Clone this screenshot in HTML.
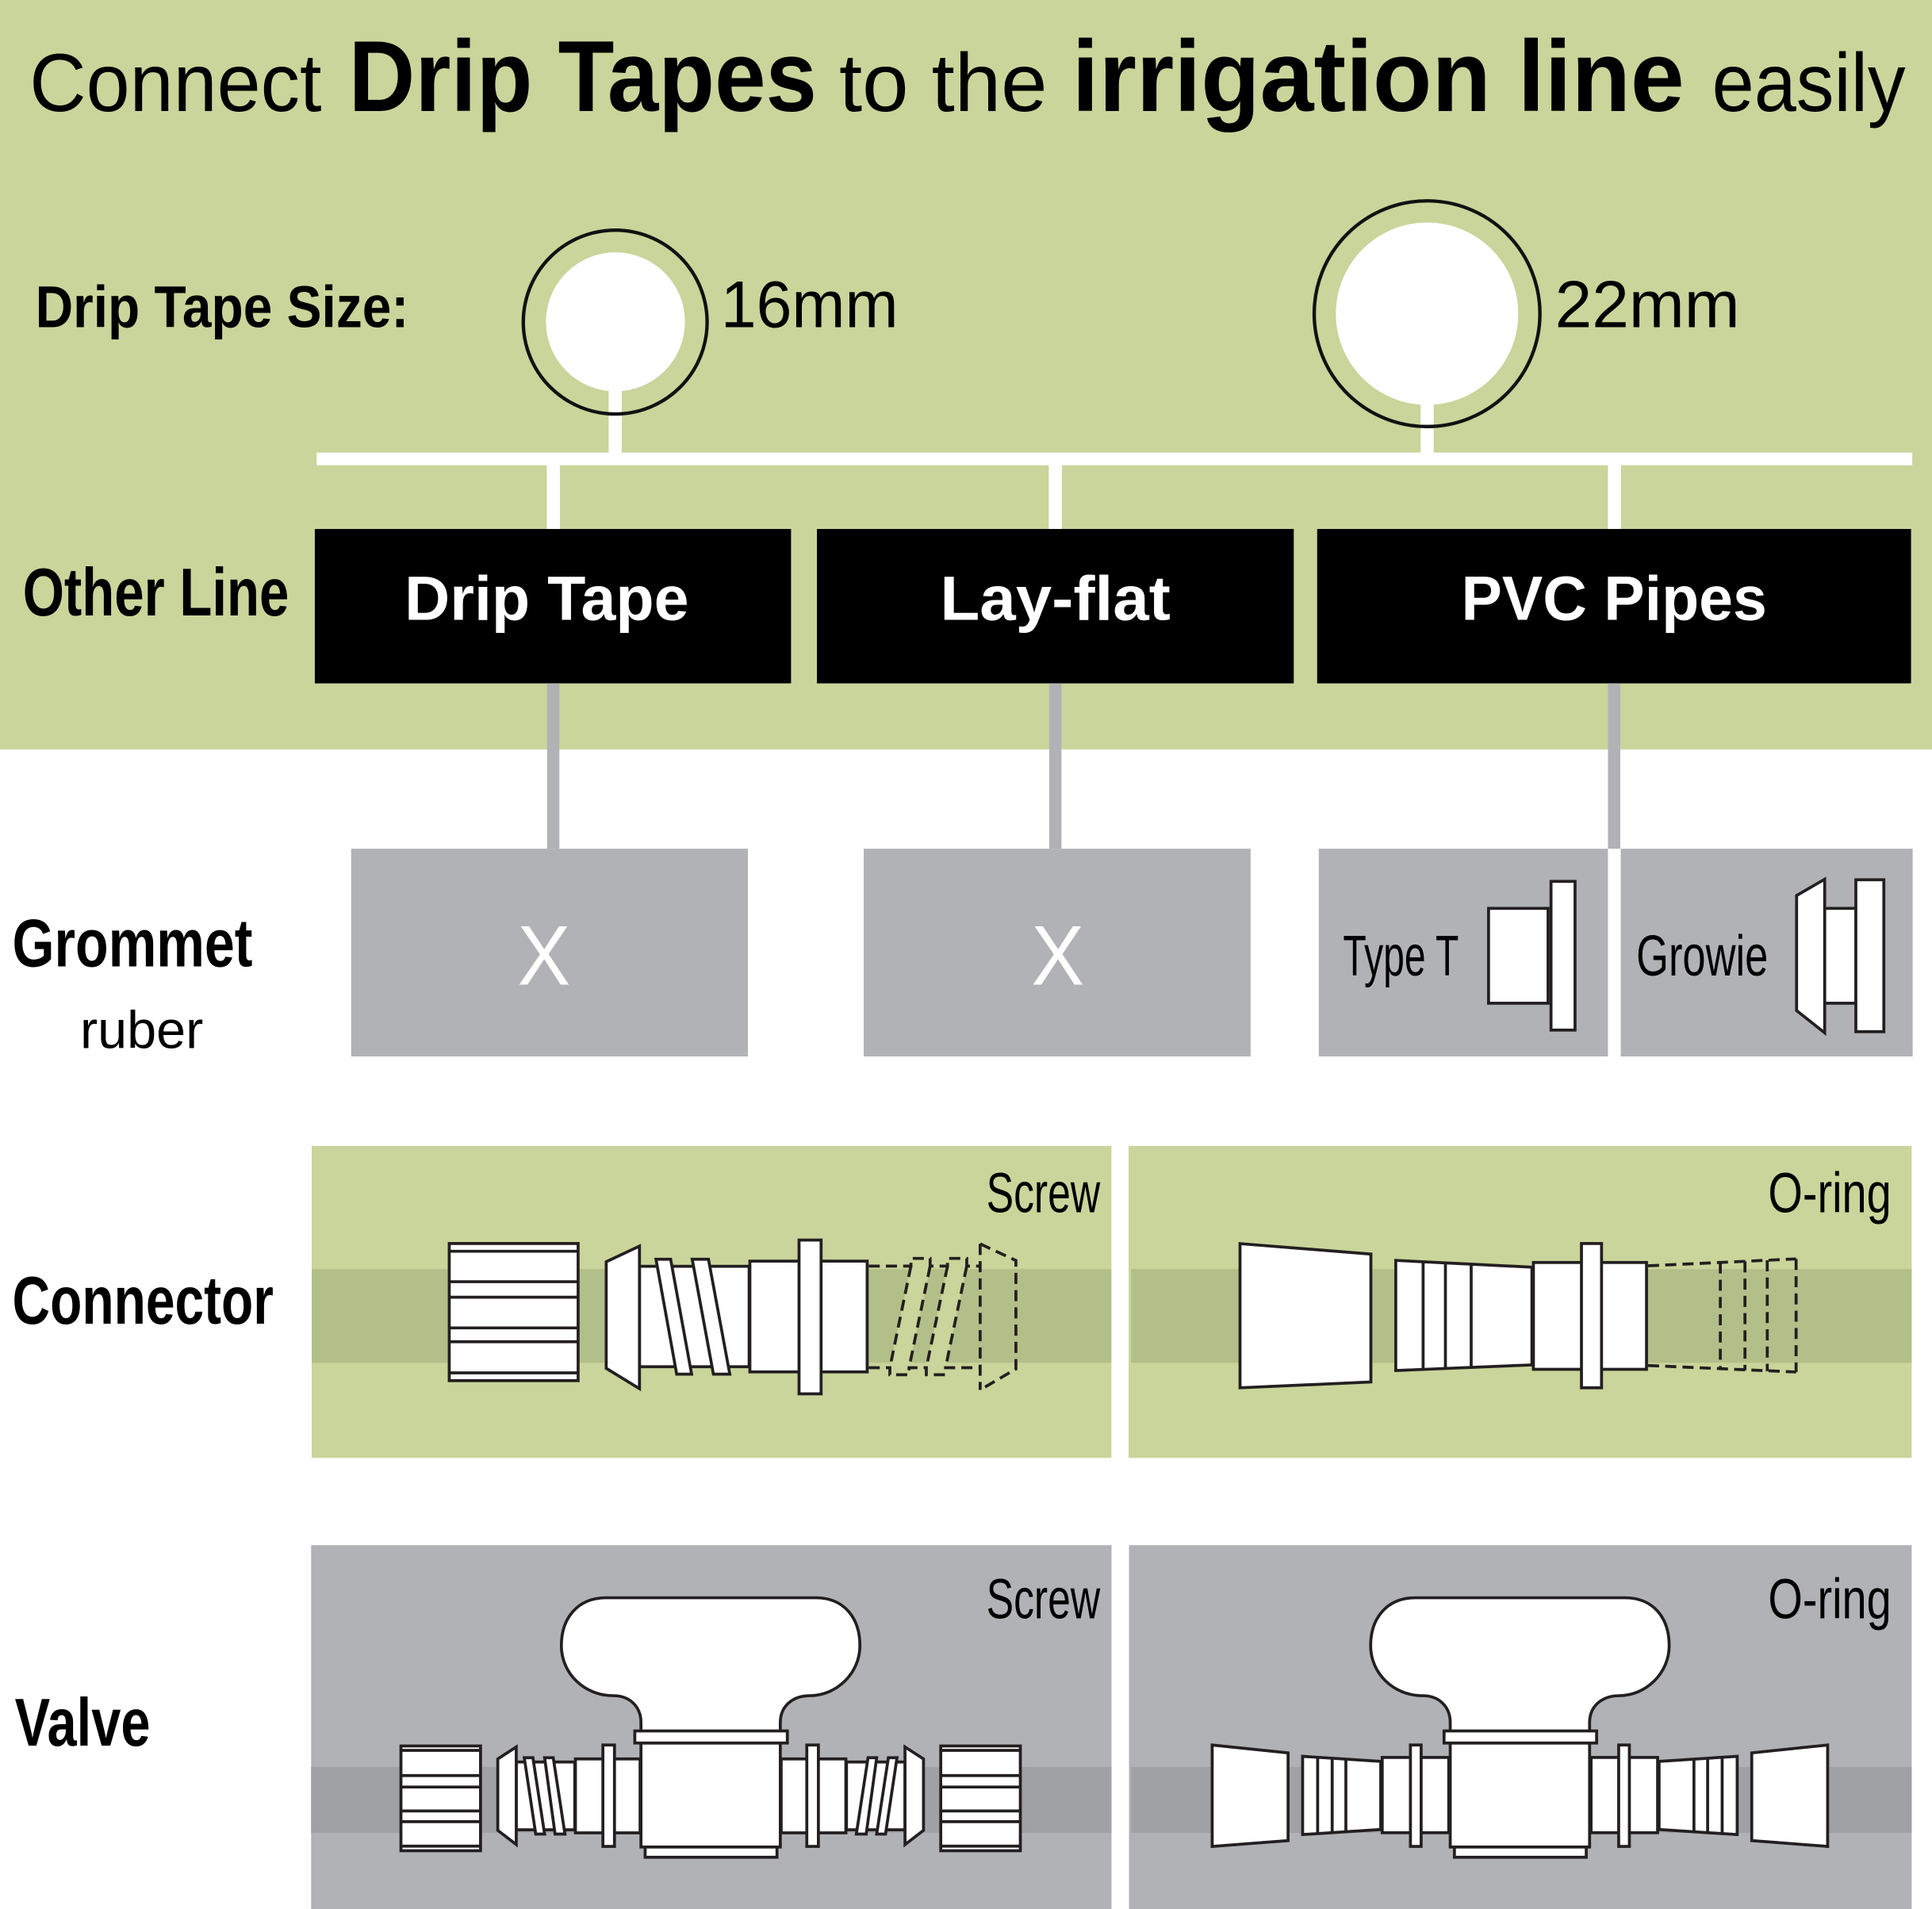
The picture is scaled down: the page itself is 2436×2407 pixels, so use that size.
<!DOCTYPE html>
<html>
<head>
<meta charset="utf-8">
<style>
  html, body { margin: 0; padding: 0; background: #fff; }
  body { width: 2436px; height: 2407px; overflow: hidden; }
  svg { display: block; }
  text { font-family: "Liberation Sans", Arial, sans-serif; }
</style>
</head>
<body>
<svg width="2436" height="2407" viewBox="0 0 1568 1549.3" preserveAspectRatio="none" xmlns="http://www.w3.org/2000/svg">
  <defs>
    <g id="valveCenter">
      <path d="M520.2,1406 L520.2,1398 C520.2,1385 511,1376.2 498,1376.2 C474,1376.2 455.6,1358 455.6,1335.6 C455.6,1313 469,1296.7 492,1296.7 L662,1296.7 C685,1296.7 697.9,1313 697.9,1335.6 C697.9,1358 679,1376.2 657,1376.2 C643,1376.2 633.3,1385 633.3,1398 L633.3,1406 Z" fill="#fff" stroke="#231f20" stroke-width="2.4"/>
      <rect x="520.2" y="1414.6" width="113.1" height="84.4" fill="#fff" stroke="#231f20" stroke-width="2.4"/>
      <rect x="515.2" y="1404.8" width="123.8" height="9.8" fill="#fff" stroke="#231f20" stroke-width="2.4"/>
      <rect x="523.6" y="1499" width="107" height="8.3" fill="#fff" stroke="#231f20" stroke-width="2.4"/>
    </g>
    <g id="valveScrewHalf" fill="#fff" stroke="#231f20" stroke-width="2.4">
      <rect x="325.4" y="1417" width="64.6" height="85"/>
      <line x1="325.4" y1="1420.6" x2="390" y2="1420.6"/>
      <line x1="325.4" y1="1441" x2="390" y2="1441"/>
      <line x1="325.4" y1="1450.3" x2="390" y2="1450.3"/>
      <line x1="325.4" y1="1469.7" x2="390" y2="1469.7"/>
      <line x1="325.4" y1="1478.4" x2="390" y2="1478.4"/>
      <line x1="325.4" y1="1498.3" x2="390" y2="1498.3"/>
      <rect x="419" y="1430" width="47.5" height="55"/>
      <polygon points="425.5,1426.5 432.5,1426.5 442,1488.5 434.8,1488.5"/>
      <polygon points="442,1426.5 449,1426.5 458.5,1488.5 450.5,1488.5"/>
      <polygon points="404,1427.5 419,1417.8 419,1497 404,1485.5"/>
      <rect x="467" y="1427.5" width="52.5" height="60"/>
      <rect x="489.3" y="1416.2" width="9.4" height="82.3"/>
    </g>
    <g id="valveOringHalf" fill="#fff" stroke="#231f20" stroke-width="2.4">
      <polygon points="983.8,1416.2 1045.4,1422.6 1045.4,1493.8 983.8,1498.5"/>
      <polygon points="1057.2,1425.4 1120.6,1429.5 1120.6,1484.8 1057.2,1488.9"/>
      <line x1="1069.4" y1="1426.2" x2="1069.4" y2="1488.1"/>
      <line x1="1081.2" y1="1427" x2="1081.2" y2="1487.4"/>
      <line x1="1092.3" y1="1427.7" x2="1092.3" y2="1486.7"/>
      <rect x="1121.8" y="1426.3" width="54" height="61.1"/>
      <rect x="1144.7" y="1416.2" width="8.7" height="82.3"/>
    </g>
  </defs>

  <!-- backgrounds -->
  <rect x="0" y="0" width="1568" height="1549.3" fill="#ffffff"/>
  <rect x="0" y="0" width="1568" height="608.2" fill="#c9d59a"/>

  <!-- title -->
  <text x="24" y="90.1" font-size="67" textLength="237" lengthAdjust="spacingAndGlyphs" fill="#000">Connect</text>
  <text x="283" y="90.1" font-size="82" font-weight="bold" textLength="380" lengthAdjust="spacingAndGlyphs" fill="#000">Drip Tapes</text>
  <text x="681" y="90.1" font-size="67" textLength="169" lengthAdjust="spacingAndGlyphs" fill="#000">to the</text>
  <text x="870" y="90.1" font-size="82" font-weight="bold" textLength="497" lengthAdjust="spacingAndGlyphs" fill="#000">irrigation line</text>
  <text x="1389.5" y="90.1" font-size="67" textLength="157" lengthAdjust="spacingAndGlyphs" fill="#000">easily</text>

  <!-- drip tape size row -->
  <text x="28.7" y="265.6" font-size="48" font-weight="bold" textLength="303" lengthAdjust="spacingAndGlyphs" fill="#000">Drip Tape Size:</text>

  <rect x="494" y="300" width="10.6" height="70" fill="#fff"/>
  <circle cx="499.5" cy="261.2" r="56.4" fill="#fff"/>
  <circle cx="499.3" cy="261.4" r="74.6" fill="none" stroke="#111" stroke-width="2.8"/>
  <text x="585" y="265.6" font-size="54" textLength="144" lengthAdjust="spacingAndGlyphs" fill="#000">16mm</text>

  <rect x="1153" y="310" width="10.6" height="60" fill="#fff"/>
  <circle cx="1158.2" cy="254.6" r="74" fill="#fff"/>
  <circle cx="1158.2" cy="254.6" r="91.6" fill="none" stroke="#111" stroke-width="2.8"/>
  <text x="1262" y="265.6" font-size="54" textLength="150" lengthAdjust="spacingAndGlyphs" fill="#000">22mm</text>

  <!-- tree bar -->
  <rect x="257" y="367.3" width="1295" height="10.3" fill="#fff"/>
  <rect x="443.8" y="377" width="10.6" height="53" fill="#fff"/>
  <rect x="851.2" y="377" width="10.6" height="53" fill="#fff"/>
  <rect x="1305" y="377" width="10.6" height="53" fill="#fff"/>

  <!-- other line -->
  <text x="18.5" y="499.5" font-size="55" font-weight="bold" textLength="216" lengthAdjust="spacingAndGlyphs" fill="#000">Other Line</text>
  <rect x="255.5" y="429.3" width="386.5" height="125.3" fill="#000"/>
  <rect x="663" y="429.3" width="387" height="125.3" fill="#000"/>
  <rect x="1069" y="429.3" width="482" height="125.3" fill="#000"/>
  <text x="328.4" y="503.1" font-size="51" font-weight="bold" textLength="230.7" lengthAdjust="spacingAndGlyphs" fill="#fff">Drip Tape</text>
  <text x="763" y="503.1" font-size="51" font-weight="bold" textLength="187" lengthAdjust="spacingAndGlyphs" fill="#fff">Lay-flat</text>
  <text x="1186" y="503.1" font-size="51" font-weight="bold" textLength="248" lengthAdjust="spacingAndGlyphs" fill="#fff">PVC Pipes</text>

  <!-- gray connectors -->
  <rect x="444" y="554.6" width="10" height="134.2" fill="#b1b2b5"/>
  <rect x="851.5" y="554.6" width="10" height="134.2" fill="#b1b2b5"/>
  <rect x="1305" y="554.6" width="10" height="134.2" fill="#b1b2b5"/>

  <!-- grommet row -->
  <text x="10" y="784.2" font-size="55" font-weight="bold" textLength="195" lengthAdjust="spacingAndGlyphs" fill="#000">Grommet</text>
  <text x="65" y="850.7" font-size="43" textLength="100" lengthAdjust="spacingAndGlyphs" fill="#000">ruber</text>

  <rect x="285" y="688.8" width="322" height="168.6" fill="#b1b2b5"/>
  <rect x="701" y="688.8" width="314" height="168.6" fill="#b1b2b5"/>
  <rect x="1070.3" y="688.8" width="234.7" height="168.6" fill="#b1b2b5"/>
  <rect x="1315.4" y="688.8" width="236.9" height="168.6" fill="#b1b2b5"/>
  <text x="420" y="799" font-size="69" textLength="43" lengthAdjust="spacingAndGlyphs" fill="#fff">X</text>
  <text x="837" y="799" font-size="69" textLength="43" lengthAdjust="spacingAndGlyphs" fill="#fff">X</text>

  <text x="1090" y="791.8" font-size="46.5" textLength="94" lengthAdjust="spacingAndGlyphs" fill="#000">Type T</text>
  <rect x="1208.1" y="737.2" width="48.3" height="77" fill="#fff" stroke="#231f20" stroke-width="2.4"/>
  <rect x="1258.8" y="715.3" width="19.5" height="120.7" fill="#fff" stroke="#231f20" stroke-width="2.4"/>

  <text x="1328" y="791.8" font-size="46.5" textLength="107" lengthAdjust="spacingAndGlyphs" fill="#000">Growie</text>
  <rect x="1480.9" y="737.2" width="25.3" height="77" fill="#fff" stroke="#231f20" stroke-width="2.4"/>
  <polygon points="1458.1,726.8 1480.9,713.6 1480.9,838.2 1458.1,820.2" fill="#fff" stroke="#231f20" stroke-width="2.4"/>
  <rect x="1506.2" y="714" width="22.7" height="123.3" fill="#fff" stroke="#231f20" stroke-width="2.4"/>

  <!-- connector row -->
  <text x="10" y="1074.2" font-size="55" font-weight="bold" textLength="212" lengthAdjust="spacingAndGlyphs" fill="#000">Connector</text>
  <rect x="253" y="930" width="649" height="253.2" fill="#c9d59a"/>
  <rect x="916" y="930" width="635.5" height="253.2" fill="#c9d59a"/>
  <rect x="253" y="1030" width="649" height="76" fill="#b3bf88"/>
  <rect x="918" y="1030" width="633.5" height="76" fill="#b3bf88"/>
  <text x="800.5" y="983.7" font-size="46" textLength="92.4" lengthAdjust="spacingAndGlyphs" fill="#000">Screw</text>
  <text x="1435" y="983.7" font-size="46" textLength="100" lengthAdjust="spacingAndGlyphs" fill="#000">O-ring</text>

  <!-- connector left (screw) -->
  <g fill="#fff" stroke="#231f20" stroke-width="2.4">
    <rect x="364.6" y="1009.2" width="104.6" height="111.3"/>
    <line x1="364.6" y1="1015.5" x2="469.2" y2="1015.5"/>
    <line x1="364.6" y1="1040.2" x2="469.2" y2="1040.2"/>
    <line x1="364.6" y1="1052.8" x2="469.2" y2="1052.8"/>
    <line x1="364.6" y1="1077.7" x2="469.2" y2="1077.7"/>
    <line x1="364.6" y1="1088.9" x2="469.2" y2="1088.9"/>
    <line x1="364.6" y1="1114.2" x2="469.2" y2="1114.2"/>
    <rect x="519" y="1027.7" width="89" height="81.5"/>
    <polygon points="532.4,1022 544.3,1022 561.3,1115.2 549.2,1115.2"/>
    <polygon points="561.8,1022 575,1022 592.3,1115.2 579,1115.2"/>
    <polygon points="492,1024 519,1011.3 519,1127 492,1110.5"/>
    <rect x="608.6" y="1023.5" width="95.2" height="89.9"/>
    <rect x="648.5" y="1006.4" width="17.9" height="124.8"/>
  </g>
  <g stroke="none" fill="#c9d59a">
    <polygon points="739.3,1028 754.9,1028 737.8,1109.5 722.2,1109.5"/>
    <polygon points="769,1028 784.6,1028 767.4,1109.5 751.8,1109.5"/>
  </g>
  <g fill="none" stroke="#231f20" stroke-width="2.4" stroke-dasharray="9 5">
    <path d="M705,1027.5 H739.3 V1021.3 H754.9 V1027.5 H769 V1021.3 H784.6 V1027.5 H795.5"/>
    <path d="M705,1110 H722.2 V1115.7 H737.8 V1110 H751.8 V1115.7 H767.4 V1110 H795.5"/>
    <path d="M739.3,1027.5 L722.2,1110"/>
    <path d="M754.9,1027.5 L737.8,1110"/>
    <path d="M769,1027.5 L751.8,1110"/>
    <path d="M784.6,1027.5 L767.4,1110"/>
    <path d="M795.5,1009.5 V1128"/>
    <path d="M795.5,1009.5 L824.5,1023 V1111 L795.5,1128"/>
  </g>

  <!-- connector right (o-ring) -->
  <g fill="#fff" stroke="#231f20" stroke-width="2.4">
    <polygon points="1006.4,1009.3 1112.6,1017.8 1112.6,1121.6 1006.4,1126.3"/>
    <polygon points="1132.8,1022.9 1243.3,1028.4 1243.3,1107.7 1132.8,1112.3"/>
    <line x1="1155" y1="1024" x2="1155" y2="1111.4"/>
    <line x1="1173.1" y1="1024.9" x2="1173.1" y2="1110.7"/>
    <line x1="1194" y1="1025.9" x2="1194" y2="1109.8"/>
    <rect x="1244.5" y="1024.6" width="91.8" height="86.7"/>
    <rect x="1283.5" y="1009.2" width="16.3" height="117.1"/>
  </g>
  <g fill="none" stroke="#231f20" stroke-width="2.4" stroke-dasharray="9 5">
    <path d="M1337.5,1027.3 L1457.7,1021.7"/>
    <path d="M1337.5,1108.2 L1457.7,1113.5"/>
    <path d="M1396.2,1024.6 V1111"/>
    <path d="M1416.2,1023.7 V1112"/>
    <path d="M1434.3,1022.8 V1112.8"/>
    <path d="M1457.7,1021.7 V1113.5"/>
  </g>

  <!-- valve row -->
  <text x="12" y="1416.7" font-size="55" font-weight="bold" textLength="110" lengthAdjust="spacingAndGlyphs" fill="#000">Valve</text>
  <rect x="252.5" y="1254" width="649.6" height="300" fill="#b1b2b5"/>
  <rect x="916.3" y="1254" width="635.2" height="300" fill="#b1b2b5"/>
  <rect x="252.5" y="1434" width="649.6" height="53.5" fill="#a0a1a4"/>
  <rect x="918" y="1434" width="633.5" height="53.5" fill="#a0a1a4"/>
  <text x="800.5" y="1313.5" font-size="46" textLength="92.4" lengthAdjust="spacingAndGlyphs" fill="#000">Screw</text>
  <text x="1435" y="1313.5" font-size="46" textLength="100" lengthAdjust="spacingAndGlyphs" fill="#000">O-ring</text>

  <!-- valve left (screw) -->
  <use href="#valveScrewHalf"/>
  <use href="#valveScrewHalf" transform="translate(1153.5,0) scale(-1,1)"/>
  <use href="#valveCenter"/>

  <!-- valve right (o-ring) -->
  <use href="#valveOringHalf"/>
  <use href="#valveOringHalf" transform="translate(2467.1,0) scale(-1,1)"/>
  <use href="#valveCenter" transform="translate(656.8,0)"/>
</svg>
</body>
</html>
